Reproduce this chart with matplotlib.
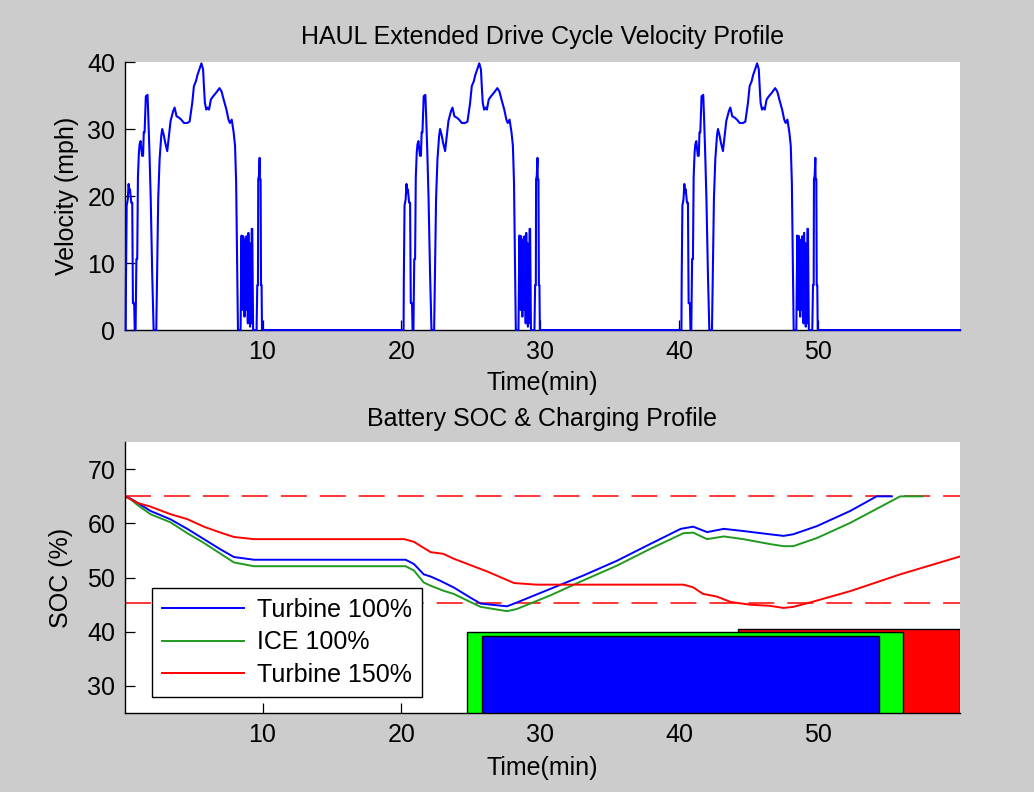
import numpy as np
import matplotlib
matplotlib.use("Agg")
import matplotlib.pyplot as plt

plt.rcParams["font.family"] = ["Liberation Sans", "DejaVu Sans"]

# One HAUL drive cycle (minutes, mph); the extended cycle repeats it every 20 min
cycle_t = [0.15, 0.17, 0.22, 0.30, 0.36, 0.42, 0.46, 0.55, 0.62, 0.67, 0.76, 0.80,
           0.86, 0.92, 0.98, 1.03, 1.10, 1.15, 1.22, 1.33, 1.40, 1.45, 1.51, 1.60,
           1.72, 1.78, 1.86, 1.95, 2.06, 2.16, 2.35, 2.42, 2.49, 2.59, 2.71, 2.78,
           2.90, 2.99, 3.14, 3.26, 3.38, 3.57, 3.67, 3.81, 3.98, 4.15, 4.34, 4.58,
           4.75, 4.87, 4.94, 5.06, 5.20, 5.32, 5.45, 5.60, 5.72, 5.78, 5.85, 5.95,
           6.05, 6.15, 6.28, 6.45, 6.65, 6.90, 7.05, 7.20, 7.40, 7.55, 7.65, 7.78,
           7.92, 8.02, 8.10, 8.18, 8.23, 8.30, 8.42, 8.49, 8.52, 8.55, 8.58, 8.61,
           8.64, 8.67, 8.70, 8.73, 8.76, 8.79, 8.82, 8.85, 8.88, 8.91, 8.94, 8.98,
           9.02, 9.06, 9.10, 9.14, 9.18, 9.22, 9.26, 9.32, 9.57, 9.62, 9.67, 9.69,
           9.74, 9.79, 9.81, 9.86, 9.89, 9.93, 9.96]
cycle_v = [0.0, 7.7, 18.6, 19.5, 21.8, 20.5, 21.0, 19.0, 19.0, 4.0, 4.0, 0.0,
           0.0, 10.6, 10.6, 22.8, 26.5, 27.7, 28.2, 26.0, 26.0, 29.5, 29.5, 34.9,
           35.1, 31.7, 26.5, 19.6, 8.2, 0.0, 0.0, 10.1, 19.6, 25.5, 29.0, 30.0,
           29.0, 28.0, 26.7, 29.0, 31.2, 32.7, 33.2, 31.9, 31.7, 31.4, 30.9, 30.9,
           31.1, 32.9, 33.9, 36.4, 37.1, 38.1, 38.9, 39.8, 38.9, 36.4, 33.9, 32.9,
           33.2, 32.9, 34.4, 34.9, 35.4, 36.1, 35.6, 34.4, 32.9, 31.4, 30.9, 31.4,
           29.5, 27.5, 22.0, 9.2, 0.0, 0.0, 0.0, 14.1, 5.0, 13.8, 3.0, 14.0,
           4.0, 13.5, 2.0, 12.0, 5.0, 13.0, 3.0, 14.0, 7.0, 12.0, 1.0, 14.5,
           4.0, 13.0, 0.5, 8.0, 1.0, 15.1, 15.1, 0.0, 0.0, 6.7, 6.7, 22.5,
           23.0, 25.7, 22.5, 22.5, 6.7, 6.7, 0.0]
cycle_offsets = [0, 20, 40]
t_end = 60.2

# Battery SOC (%) vs time (min)
turb100_t = [0.1, 0.5, 1.0, 1.94, 3.38, 4.58, 5.78, 6.98, 7.94, 9.38, 20.3, 20.9,
             21.6, 22.1, 22.8, 23.75, 24.96, 25.7, 27.6, 28.3, 30.7, 33.1, 35.5,
             37.9, 40.1, 41.0, 42.0, 43.2, 44.6, 46.5, 47.5, 48.2, 49.9, 52.3,
             54.2, 55.3]
turb100_soc = [65.0, 64.6, 63.8, 62.3, 60.75, 59.0, 57.1, 55.2, 53.8, 53.3, 53.3, 52.5,
               50.6, 50.2, 49.4, 48.2, 46.3, 45.2, 44.7, 45.4, 47.9, 50.4, 53.1,
               56.2, 59.0, 59.4, 58.4, 59.0, 58.6, 58.0, 57.7, 58.0, 59.5, 62.3,
               65.0, 65.0]

ice100_t = [0.1, 0.5, 1.0, 1.94, 3.38, 4.58, 5.78, 6.98, 7.94, 9.38, 20.3, 20.9,
            21.6, 22.1, 23.0, 23.75, 24.96, 25.7, 27.6, 28.3, 30.7, 33.1, 35.5,
            37.9, 40.3, 41.0, 42.0, 43.2, 44.6, 46.5, 47.5, 48.2, 49.9, 52.3,
            55.9, 57.5]
ice100_soc = [65.0, 64.5, 63.4, 61.7, 60.2, 58.2, 56.4, 54.4, 52.8, 52.1, 52.1, 51.3,
              49.1, 48.5, 47.6, 47.0, 45.5, 44.6, 43.8, 44.2, 46.7, 49.5, 52.2,
              55.3, 58.2, 58.3, 57.1, 57.6, 57.1, 56.2, 55.8, 55.8, 57.3, 60.1,
              65.0, 65.0]

turb150_t = [0.1, 0.98, 1.94, 3.38, 4.58, 5.78, 6.98, 7.94, 9.38, 20.2, 20.9, 22.1,
             23.0, 23.75, 26.2, 28.1, 29.7, 40.3, 41.0, 41.7, 42.7, 43.7, 45.1,
             46.5, 47.5, 48.2, 49.4, 52.3, 55.9, 60.2]
turb150_soc = [65.0, 63.8, 63.1, 61.7, 60.8, 59.4, 58.3, 57.5, 57.1, 57.1, 56.6, 54.7,
               54.4, 53.5, 51.1, 49.0, 48.7, 48.7, 48.2, 47.0, 46.5, 45.5, 45.0,
               44.8, 44.4, 44.6, 45.4, 47.5, 50.6, 53.9]

soc_limits = [65.0, 45.3]

# Charging blocks: start (min), end (min), top SOC level
charge_labels = ["Turbine 150%", "ICE 100%", "Turbine 100%"]
charge_start = [44.2, 24.75, 25.8]
charge_end = [60.2, 56.1, 54.4]
charge_top = [40.5, 39.9, 39.2]
charge_colors = ["#ff0000", "#00ff00", "#0000ff"]

SOC_BOTTOM = 25
FS = 18


def style_axes(ax):
    ax.set_facecolor("white")
    for side in ["top", "right"]:
        ax.spines[side].set_visible(False)
    for side in ["left", "bottom"]:
        ax.spines[side].set_linewidth(1.0)
    ax.tick_params(direction="in", length=7, width=0.9, labelsize=FS, pad=7,
                   top=False, right=False)


def main():
    fig = plt.figure(figsize=(10.34, 7.92), dpi=100, facecolor="#cccccc")

    # --- velocity profile ---
    ax1 = fig.add_axes([0.1209, 0.5833, 0.8075, 0.3384])
    t_all, v_all = [], []
    for off in cycle_offsets:
        t_all.extend(np.array(cycle_t) + off)
        v_all.extend(cycle_v)
    t_all.append(t_end)
    v_all.append(0.0)
    # blue trace sits on top of the x axis line, like the original
    ax1.plot(t_all, v_all, color="#0000ff", lw=1.5, zorder=3, clip_on=False)
    ax1.set_xlim(0.1, 60.2)
    ax1.set_ylim(0, 40)
    ax1.set_xticks([10, 20, 30, 40, 50])
    ax1.set_yticks([0, 10, 20, 30, 40])
    style_axes(ax1)
    ax1.set_title("HAUL Extended Drive Cycle Velocity Profile", fontsize=FS, pad=13)
    ax1.set_xlabel("Time(min)", fontsize=FS, labelpad=5)
    ax1.set_ylabel("Velocity (mph)", fontsize=FS, labelpad=6)

    # --- SOC & charging ---
    ax2 = fig.add_axes([0.1209, 0.0997, 0.8075, 0.342])
    for lvl in soc_limits:
        ax2.axhline(lvl, color="#ff0000", lw=1.1, dashes=(17, 8.5), zorder=1)
    ax2.plot(turb100_t, turb100_soc, color="#0000ff", lw=1.4, label="Turbine 100%", zorder=2)
    ax2.plot(ice100_t, ice100_soc, color="#1f9a1f", lw=1.4, label="ICE 100%", zorder=2)
    ax2.plot(turb150_t, turb150_soc, color="#ff0000", lw=1.4, label="Turbine 150%", zorder=2)

    for s, e, top, c in zip(charge_start, charge_end, charge_top, charge_colors):
        ax2.bar(s, top - SOC_BOTTOM, width=e - s, bottom=SOC_BOTTOM, align="edge",
                color=c, edgecolor="black", linewidth=1.0, zorder=3)

    ax2.set_xlim(0.1, 60.2)
    ax2.set_ylim(SOC_BOTTOM, 75)
    ax2.set_xticks([10, 20, 30, 40, 50])
    ax2.set_yticks([30, 40, 50, 60, 70])
    style_axes(ax2)
    ax2.set_title("Battery SOC & Charging Profile", fontsize=FS, pad=12)
    ax2.set_xlabel("Time(min)", fontsize=FS, labelpad=7)
    ax2.set_ylabel("SOC (%)", fontsize=FS, labelpad=10)

    leg = ax2.legend(loc="lower left", bbox_to_anchor=(0.032, 0.059), borderaxespad=0,
                     fontsize=FS, handlelength=3.3, handletextpad=0.5,
                     labelspacing=0.35, borderpad=0.4, fancybox=False,
                     framealpha=1, edgecolor="black")
    leg.get_frame().set_linewidth(1.0)
    leg.set_zorder(5)

    fig.savefig("out.png", dpi=100, facecolor=fig.get_facecolor())


if __name__ == "__main__":
    main()
